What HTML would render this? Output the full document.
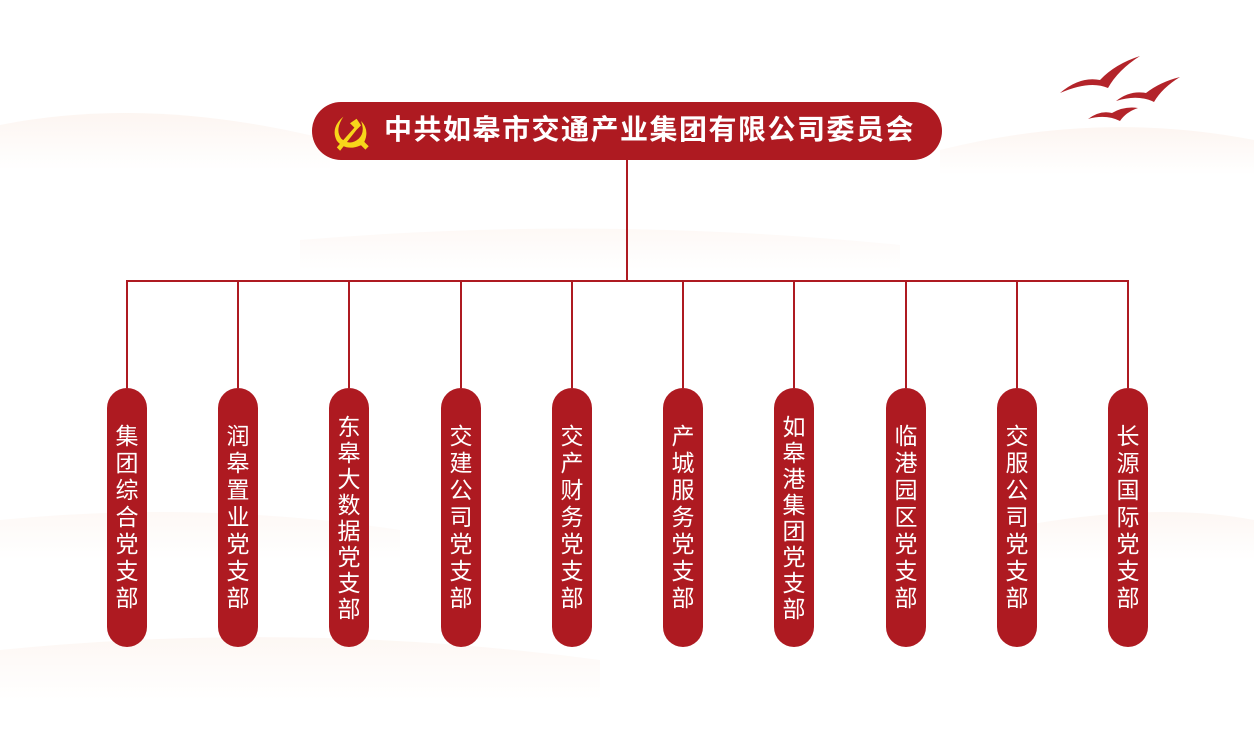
<!DOCTYPE html>
<html><head><meta charset="utf-8"><style>
html,body{margin:0;padding:0}
body{width:1254px;height:750px;position:relative;overflow:hidden;background:#fff;font-family:"Liberation Sans","Noto Sans CJK SC",sans-serif}
.bg{position:absolute;left:0;top:0}
.banner{position:absolute;left:312px;top:102px;width:630px;height:58px;border-radius:29px;background:#ae1a21}
.banner span{position:absolute;left:72px;top:11px;font-size:28px;font-weight:bold;color:#fff;letter-spacing:1.5px;line-height:34px;white-space:nowrap}
.pill{position:absolute;top:388px;width:40px;height:259px;border-radius:20px;background:#ae1a21;color:#fff;font-size:23px;display:flex;align-items:center;justify-content:center;text-align:center}
.pill div{width:24px;line-height:27px;word-break:break-all}
.pill.l8 div{line-height:26px}
.ln{position:absolute;background:#ae1a21}
</style></head><body>
<svg class="bg" width="1254" height="750">
<defs><linearGradient id="g" x1="0" x2="0" y1="0" y2="1"><stop offset="0" stop-color="#fbefe8"/><stop offset="1" stop-color="#fff"/></linearGradient></defs>
<path d="M0 125 Q150 95 330 140 L330 170 L0 170Z" fill="url(#g)" opacity=".6"/>
<path d="M940 150 Q1100 110 1254 140 L1254 175 L940 175Z" fill="url(#g)" opacity=".6"/>
<path d="M300 240 Q600 215 900 245 L900 270 L300 270Z" fill="url(#g)" opacity=".4"/>
<path d="M0 520 Q200 500 400 530 L400 560 L0 560Z" fill="url(#g)" opacity=".4"/>
<path d="M1000 530 Q1150 500 1254 520 L1254 560 L1000 560Z" fill="url(#g)" opacity=".5"/>
<path d="M0 650 Q300 620 600 660 L600 700 L0 700Z" fill="url(#g)" opacity=".5"/>
<path d="M1060 93 Q1080 76 1100 80 Q1115 64 1140 56 Q1118 70 1108 88 Q1090 80 1060 93Z" fill="#b3242a"/>
<path d="M1116 101 Q1130 90 1146 93 Q1160 82 1180 77 Q1162 88 1154 102 Q1138 94 1116 101Z" fill="#b3242a"/>
<path d="M1088 119 Q1100 110 1112 113 Q1124 106 1138 108 Q1126 112 1120 121 Q1106 114 1088 119Z" fill="#b3242a"/>
</svg>
<div class="ln" style="left:626px;top:160px;width:2px;height:122px"></div>
<div class="ln" style="left:126px;top:280px;width:1003px;height:2px"></div>
<div class="banner">
<svg style="position:absolute;left:16px;top:8px" width="44" height="44" viewBox="0 0 40 40">
<path d="M14 6 Q2 16 8 28 Q16 38 30 32 L34 36 L37 33 L33 29 Q38 18 30 10 Q34 20 28 26 Q20 33 12 26 Q6 18 14 6Z" fill="#f7d61a"/>
<path d="M8 34 L24 16 L20 12 L26 8 L30 14 L26 18 L11 37Z" fill="#f7d61a"/>
</svg>
<span>中共如皋市交通产业集团有限公司委员会</span></div>
<div class="ln" style="left:126px;top:280px;width:2px;height:108px"></div><div class="pill" style="left:107px"><div>集团综合党支部</div></div>
<div class="ln" style="left:237px;top:280px;width:2px;height:108px"></div><div class="pill" style="left:218px"><div>润皋置业党支部</div></div>
<div class="ln" style="left:348px;top:280px;width:2px;height:108px"></div><div class="pill l8" style="left:329px"><div>东皋大数据党支部</div></div>
<div class="ln" style="left:460px;top:280px;width:2px;height:108px"></div><div class="pill" style="left:441px"><div>交建公司党支部</div></div>
<div class="ln" style="left:571px;top:280px;width:2px;height:108px"></div><div class="pill" style="left:552px"><div>交产财务党支部</div></div>
<div class="ln" style="left:682px;top:280px;width:2px;height:108px"></div><div class="pill" style="left:663px"><div>产城服务党支部</div></div>
<div class="ln" style="left:793px;top:280px;width:2px;height:108px"></div><div class="pill l8" style="left:774px"><div>如皋港集团党支部</div></div>
<div class="ln" style="left:905px;top:280px;width:2px;height:108px"></div><div class="pill" style="left:886px"><div>临港园区党支部</div></div>
<div class="ln" style="left:1016px;top:280px;width:2px;height:108px"></div><div class="pill" style="left:997px"><div>交服公司党支部</div></div>
<div class="ln" style="left:1127px;top:280px;width:2px;height:108px"></div><div class="pill" style="left:1108px"><div>长源国际党支部</div></div>
</body></html>
